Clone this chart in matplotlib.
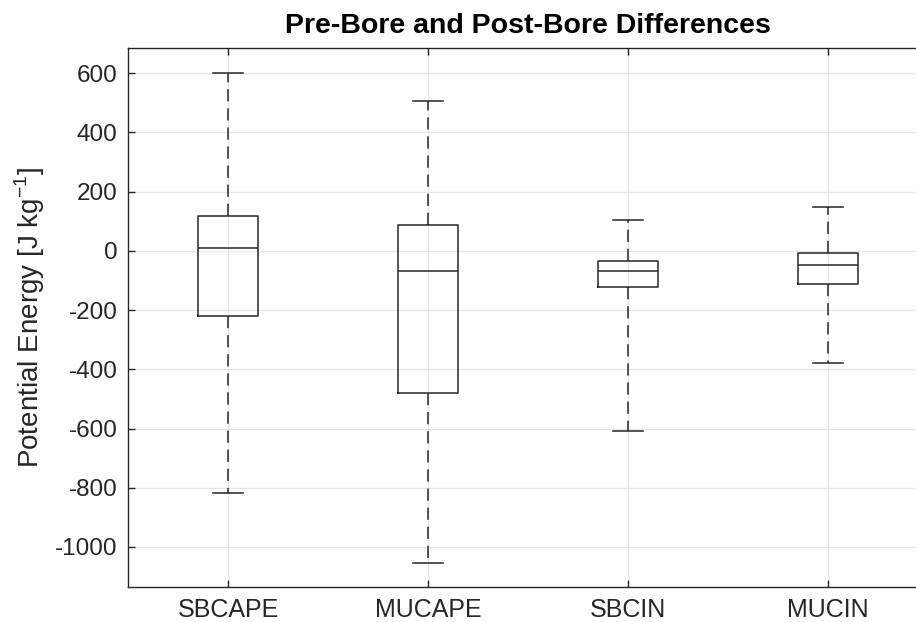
import matplotlib.pyplot as plt

# values (J/kg)
categories = ["SBCAPE", "MUCAPE", "SBCIN", "MUCIN"]
whisker_lo = [-816, -1054, -608, -380]
q1 = [-221, -481, -123, -113]
medians = [8, -69, -69, -48]
q3 = [118, 87, -34, -6]
whisker_hi = [600, 505, 105, 147]

plt.rcParams["font.family"] = ["Liberation Sans", "DejaVu Sans"]
plt.rcParams["axes.unicode_minus"] = False

fig = plt.figure(figsize=(9.16, 6.22), dpi=100)
ax = fig.add_axes([0.1397, 0.0563, 0.8734, 0.8666])

stats = []
for i in range(len(categories)):
    stats.append({"label": categories[i], "whislo": whisker_lo[i], "q1": q1[i],
                  "med": medians[i], "q3": q3[i], "whishi": whisker_hi[i],
                  "fliers": []})

ink = "#262626"
ax.bxp(stats, positions=[1, 2, 3, 4], widths=0.3, capwidths=0.15,
       showfliers=False,
       boxprops=dict(color=ink, linewidth=1.1),
       medianprops=dict(color=ink, linewidth=1.1),
       whiskerprops=dict(color=ink, linewidth=1.1, linestyle=(0, (8, 4.5))),
       capprops=dict(color=ink, linewidth=1.1))

ax.set_xlim(0.5, 4.5)
ax.set_ylim(-1135, 685)
ax.set_yticks(range(-1000, 601, 200))
ax.set_xticks([1, 2, 3, 4])
ax.set_xticklabels(categories)

ax.grid(True, color="#e6e6e6", linewidth=0.9)
ax.set_axisbelow(True)
ax.tick_params(direction="in", length=5, width=1, colors=ink, labelsize=17.5,
               top=True, right=True, pad=7.5)
ax.tick_params(axis="x", labelsize=18, pad=8)
for s in ax.spines.values():
    s.set_color(ink)
    s.set_linewidth(1)

ax.set_ylabel("Potential Energy [J kg$^{\\mathregular{-1}}$]", fontsize=20,
              color=ink, labelpad=6)
ax.set_title("Pre-Bore and Post-Bore Differences", fontsize=20.5,
             fontweight="bold", pad=11)

fig.savefig("out.png", dpi=100)
